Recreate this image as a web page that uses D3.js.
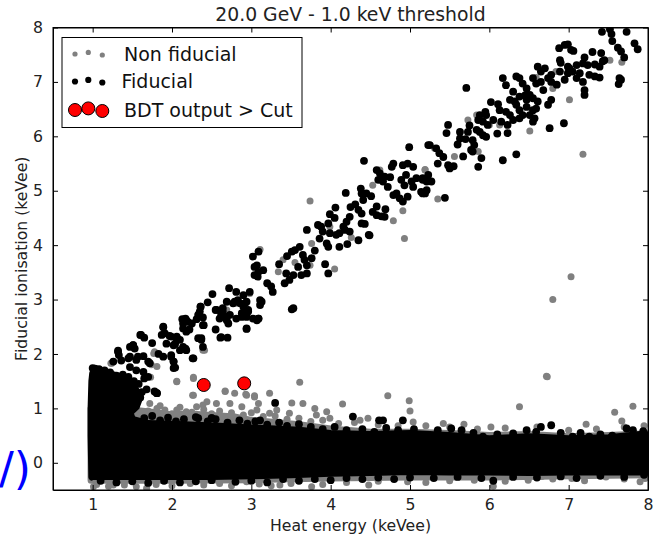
<!DOCTYPE html>
<html><head><meta charset="utf-8">
<script src="https://cdn.jsdelivr.net/npm/d3@7"></script>
<style>body{margin:0;background:#fff}svg{display:block}text{font-family:"DejaVu Sans",sans-serif}</style>
</head><body><div id="chart"></div>
<script>
const title = "20.0 GeV - 1.0 keV threshold";
const xLabel = "Heat energy (keVee)";
const yLabel = "Fiducial ionisation (keVee)";
const xTicks = [1,2,3,4,5,6,7,8];
const yTicks = [0,1,2,3,4,5,6,7,8];
const legendLabels = ["Non fiducial","Fiducial","BDT output > Cut"];

// dense band outlines (data coords)
const nonFidBandX = [0.98,0.98,1.4,1.6,1.8,2.0,2.2,2.4,2.6,2.8,3.0,3.3,3.6,4.0,4.5,5.0,5.5,6.0,6.5,7.0,7.5,8.1,8.1,7.0,6.0,5.0,4.0,3.0,2.0,1.0];
const nonFidBandY = [-0.32,1.0,0.98,0.95,0.92,0.88,0.9,0.88,0.86,0.84,0.78,0.74,0.7,0.62,0.56,0.56,0.54,0.5,0.52,0.48,0.5,0.54,-0.22,-0.24,-0.26,-0.26,-0.28,-0.31,-0.32,-0.32];
const fidBandX = [0.99,0.98,0.98,0.99,1.0,1.1,1.25,1.4,1.5,1.56,1.58,1.55,1.47,1.5,1.7,2.0,2.3,2.6,3.0,3.3,3.6,4.0,4.5,5.0,5.5,6.0,6.5,7.0,7.5,7.9,8.1,8.1,7.5,7.0,6.5,6.0,5.5,5.0,4.5,4.0,3.5,3.0,2.5,2.0,1.5,1.0];
const fidBandY = [-0.26,0.5,1.0,1.5,1.64,1.64,1.62,1.55,1.45,1.3,1.15,1.03,0.92,0.8,0.72,0.71,0.69,0.67,0.64,0.62,0.6,0.54,0.52,0.54,0.5,0.44,0.48,0.44,0.46,0.52,0.5,-0.17,-0.17,-0.17,-0.18,-0.17,-0.17,-0.16,-0.18,-0.19,-0.22,-0.24,-0.25,-0.25,-0.25,-0.25];

// scattered non-fiducial points
const nonFidX = [1.23,1.78,2.39,3.74,4.53,5.19,4.91,4.79,4.93,4.26,3.99,3.76,3.55,3.40,3.34,3.74,4.05,3.11,2.98,4.62,
7.41,7.52,7.67,7.01,6.80,6.51,7.18,6.13,6.00,5.86,5.56,5.73,5.84,5.19,5.35,5.31,6.84,6.59,7.03,6.80,6.72,
2.81,2.69,2.35,2.41,1.77,1.74,1.81,1.24,1.73,2.06,2.27,2.27,2.67,2.93,3.04,
2.06,2.27,2.26,2.44,2.67,2.79,2.94,3.04,3.23,3.61,3.51,3.65,3.80,3.95,4.15,3.48,3.82,3.99,2.56,2.73,2.88,3.09,3.07,3.32,3.23,
1.72,1.81,1.91,2.06,2.18,2.31,2.39,1.64,1.45,1.49,1.26,
4.72,4.99,5.00,6.38,6.73,7.58,7.81,7.22,7.67,5.68,6.02,5.42,5.04,4.37,4.47,
4.48,4.97,5.81,6.05,6.49,7.04,7.47,7.96,6.66,1.01,1.26,1.68,2.23,2.94,3.36,3.76,
1.7,1.85,2.0,2.1,2.25,2.4,2.5,2.6,2.75,2.9,3.0,3.15,3.3,3.45,3.6,3.75,3.9,4.1,4.3,4.6,4.85,5.2,5.5,5.85,6.2,6.6,7.0,7.35,7.7,7.95,
1.05,1.2,1.4,1.55,1.8,2.0,2.4,2.6,2.75,3.1,3.25,3.5,3.9,4.2,4.6,5.2,5.5,6.2,6.8,7.2,7.7,7.9];
const nonFidY = [1.83,2.04,2.07,4.81,5.10,5.39,4.63,4.45,4.12,4.14,4.34,4.03,3.68,3.73,3.51,3.63,3.56,3.92,3.11,5.38,
7.53,7.40,7.36,6.67,6.88,6.10,5.67,6.21,6.21,5.72,5.63,6.30,6.39,5.38,4.85,5.78,7.19,7.08,3.42,3.00,1.59,
2.93,2.81,2.78,2.07,2.01,1.80,1.77,1.83,1.57,1.49,1.57,1.24,1.32,1.26,1.23,
1.50,1.55,1.24,1.12,1.31,1.28,1.24,1.21,1.28,1.48,1.10,1.09,1.00,0.94,1.08,0.91,0.88,0.82,1.09,1.09,1.03,1.09,0.97,0.97,0.91,
1.09,1.00,0.97,0.97,0.94,1.03,1.06,0.91,1.12,1.40,1.86,
1.23,1.14,0.95,1.03,1.58,0.93,1.04,0.71,0.77,0.71,0.66,0.72,0.75,0.78,0.82,
-0.41,-0.35,-0.32,-0.43,-0.32,-0.29,-0.26,-0.29,-0.25,-0.44,-0.41,-0.47,-0.38,-0.35,-0.41,-0.44,
0.95,1.05,0.9,1.02,0.93,0.98,0.9,0.95,0.92,0.88,0.92,0.85,0.86,0.8,0.82,0.76,0.78,0.72,0.74,0.70,0.68,0.68,0.66,0.62,0.64,0.66,0.6,0.62,0.66,0.68,
-0.4,-0.43,-0.41,-0.44,-0.4,-0.42,-0.41,-0.38,-0.42,-0.39,-0.42,-0.38,-0.4,-0.36,-0.34,-0.36,-0.33,-0.34,-0.3,-0.33,-0.3,-0.35];

// scattered fiducial points
const fidX = [1.03,1.32,1.47,1.45,1.55,1.60,1.51,1.72,1.78,1.89,1.87,1.99,2.06,2.04,2.14,2.18,1.93,1.99,2.02,2.02,2.26,
2.13,2.18,2.25,2.14,2.18,2.33,2.39,2.37,2.39,2.36,2.62,2.56,2.64,2.62,2.69,2.71,2.79,2.86,2.88,2.92,2.94,3.09,3.11,3.13,3.53,
4.99,5.23,4.42,4.58,4.62,4.68,4.66,4.72,4.79,4.77,4.91,4.97,5.04,4.95,4.89,5.02,5.08,5.16,5.19,5.14,5.04,4.93,4.83,4.87,4.91,4.97,4.79,
4.19,4.38,4.39,4.31,4.41,4.51,4.58,4.69,4.64,4.68,4.06,3.99,4.35,4.39,4.53,4.58,
4.24,4.20,4.16,4.24,4.18,4.11,4.07,4.35,4.49,4.39,4.43,3.84,3.88,3.97,3.99,3.86,3.95,3.97,4.11,4.21,4.48,3.70,
3.51,3.55,3.61,3.65,3.67,3.70,3.76,3.59,3.53,3.44,3.42,3.48,3.63,3.70,3.93,3.97,
3.02,3.09,3.04,3.09,3.15,3.25,3.27,3.11,2.98,2.94,2.90,2.96,3.51,3.09,2.88,
7.42,7.54,7.52,7.73,7.83,7.87,6.88,6.95,6.99,7.03,7.06,7.41,7.62,7.66,7.64,7.66,7.63,7.45,
6.89,6.99,7.10,7.18,7.24,7.33,7.43,7.39,6.61,6.70,6.65,6.78,6.89,6.99,7.01,7.05,7.14,7.26,7.33,7.39,
6.95,7.10,7.18,7.20,7.20,6.17,6.34,6.38,6.21,6.30,6.42,6.47,6.55,6.59,6.65,6.74,6.78,6.51,6.38,6.47,6.55,6.61,6.32,6.26,5.71,
6.02,6.11,6.13,6.34,6.38,6.47,6.55,6.59,6.51,6.57,6.42,6.26,6.21,6.30,6.38,6.74,6.78,6.55,
5.88,5.96,5.86,5.92,5.98,5.84,5.88,5.73,5.63,5.48,5.46,5.63,5.79,5.92,5.81,5.77,5.96,6.15,6.23,6.23,6.94,6.76,6.34,6.17,
5.48,5.50,5.67,5.79,5.90,5.86,5.37,5.25,5.33,5.16,5.23,5.21,5.27,5.16,5.21,5.44,
3.07,3.04,3.08,2.51,2.72,2.81,2.90,2.69,2.77,2.83,2.92,2.96,3.02,2.55,2.64,2.73,2.60,2.69,2.81,2.94,3.07,
2.36,2.35,2.39,2.40,2.17,2.20,2.14,2.22,2.31,1.89,1.91,1.97,2.06,2.10,2.02,2.10,2.17,2.33,2.37,2.27,2.61,2.94,
1.61,1.51,1.53,1.47,1.32,1.33,1.36,1.57,1.64,1.70,1.83,1.89,1.99,2.02,2.04,1.26,1.47,1.55,1.64,1.70,1.81,
3.30,3.11,2.50,1.81,2.75,4.28,4.61,4.66,4.91,6.65,5.52,7.94,
5.35,5.42,5.55,5.60,5.70,5.75,5.95,6.05,6.10,6.45,6.68,6.85,6.90,7.20,7.30,7.55,7.70,3.20,3.35,3.45,3.80,3.90,4.05,4.25,4.45,4.60,4.75,2.55,2.70,2.45,1.75,1.65,
1.00,1.08,1.15,1.22,1.30,1.38,1.45,1.52,1.58,1.62,1.60,1.55,1.65,1.68,
1.65,1.75,1.85,1.95,2.05,2.15,2.30,2.45,2.55,2.70,2.85,2.95,3.05,3.20,3.35,3.45,3.60,3.75,3.90,4.05,4.20,4.40,4.55,4.70,4.85,5.05,5.21,5.35,5.65,5.80,5.92,6.10,6.30,6.47,6.59,6.78,6.90,7.05,7.15,7.26,7.40,7.55,7.73,7.81,2.33,2.50,
1.10,1.30,1.50,1.70,1.90,2.10,2.30,2.50,2.80,3.00,3.20,3.40,3.60,3.80,4.00,4.20,4.40,4.60,4.80,5.00,5.30,5.60,5.90,6.05,6.30,6.60,6.90,7.10,7.40,7.70,7.95];
const fidY = [1.73,2.04,2.13,1.92,1.89,2.35,2.16,1.83,1.31,2.50,2.35,2.32,2.29,2.19,2.13,2.07,2.19,1.98,1.86,1.74,1.92,
2.64,2.62,2.56,2.47,2.41,2.72,2.53,2.29,2.13,2.87,2.31,2.81,2.84,2.72,2.68,2.56,2.96,2.93,2.75,2.78,2.47,2.65,2.90,2.96,2.84,
5.80,5.84,5.55,5.38,5.32,5.26,5.17,5.07,5.50,5.44,5.47,5.50,5.44,5.29,5.20,5.17,5.23,5.20,4.95,4.98,5.07,5.10,4.95,4.86,4.80,4.89,4.92,
4.96,5.04,4.95,4.75,4.83,4.90,4.71,4.66,4.53,4.52,4.69,4.57,4.65,4.58,4.61,4.55,
4.52,4.43,4.34,4.25,4.28,4.22,4.19,4.09,4.18,4.40,4.39,4.37,4.34,4.40,4.22,4.12,4.03,3.97,3.97,4.02,4.19,4.28,
3.88,3.91,3.97,3.82,3.73,3.63,3.76,3.60,3.45,3.48,3.30,3.36,3.45,3.48,3.65,3.48,
3.79,3.88,3.60,3.51,3.54,3.24,3.14,2.99,3.14,2.96,2.87,2.81,2.82,2.65,2.68,
7.92,7.88,7.97,7.92,7.71,7.60,7.62,7.68,7.69,7.59,7.57,7.53,7.63,7.56,7.07,7.04,6.96,7.40,
7.40,7.28,7.31,7.34,7.31,7.32,7.38,7.28,7.28,7.25,7.19,7.13,7.19,7.16,7.25,7.19,7.16,7.13,7.10,7.08,
7.04,7.07,7.00,6.85,6.76,7.07,7.10,7.07,6.94,6.82,6.97,6.88,7.07,6.97,7.00,7.07,7.00,6.76,6.73,6.67,6.70,6.64,6.64,6.67,6.89,
6.63,6.59,6.48,6.58,6.48,6.54,6.48,6.51,6.39,6.33,6.39,6.39,6.45,6.30,6.33,6.58,6.67,6.27,
6.39,6.39,6.30,6.27,6.21,6.12,6.08,6.08,6.08,6.21,6.06,5.96,5.93,6.02,5.84,5.75,5.99,6.27,6.21,6.06,6.24,6.15,5.67,5.56,
5.47,5.41,5.63,5.72,5.60,5.44,5.69,5.84,5.78,5.23,5.29,5.17,5.17,4.95,5.01,4.87,
3.63,3.45,3.42,3.10,3.21,3.14,3.08,2.96,2.93,2.99,2.93,2.78,2.65,2.81,2.78,2.72,2.65,2.62,2.65,2.68,2.62,
2.87,2.78,2.67,2.53,2.65,2.59,2.56,2.45,2.64,2.49,2.38,2.33,2.32,2.26,2.16,2.07,2.10,2.29,2.26,1.92,2.30,2.46,
2.35,2.16,2.10,1.95,2.06,1.98,1.88,1.95,1.96,1.86,2.00,1.95,1.95,1.86,1.75,1.86,1.76,1.70,1.67,1.58,1.28,
1.10,0.78,0.82,1.28,-0.23,0.85,0.78,0.78,0.78,0.66,0.63,0.58,
5.50,5.62,5.45,5.85,5.95,6.20,6.45,6.30,6.05,6.75,6.85,6.95,7.35,7.45,7.55,7.75,7.45,3.30,3.65,3.80,3.90,4.25,4.50,4.70,4.95,5.20,5.25,2.45,2.30,2.95,2.20,2.30,
1.74,1.72,1.70,1.66,1.60,1.62,1.58,1.50,1.45,1.30,1.20,1.10,1.55,1.35,
0.82,0.86,0.78,0.83,0.76,0.80,0.84,0.76,0.80,0.74,0.78,0.72,0.76,0.70,0.74,0.68,0.71,0.66,0.62,0.66,0.60,0.62,0.57,0.64,0.60,0.62,0.51,0.60,0.60,0.55,0.48,0.52,0.54,0.60,0.57,0.69,0.55,0.48,0.55,0.48,0.52,0.50,0.63,0.60,0.82,0.82,
-0.33,-0.36,-0.34,-0.37,-0.33,-0.36,-0.34,-0.32,-0.35,-0.33,-0.36,-0.30,-0.33,-0.30,-0.32,-0.28,-0.30,-0.27,-0.30,-0.27,-0.28,-0.26,-0.28,-0.33,-0.26,-0.27,-0.25,-0.28,-0.24,-0.26,-0.22];

// BDT output > Cut
const bdtX = [2.40,2.91];
const bdtY = [1.43,1.46];

const W = 653, H = 541;
const m = {left:53, right:5, top:27.5, bottom:51};
const x = d3.scaleLinear().domain([0.5,8]).range([m.left, W-m.right]);
const y = d3.scaleLinear().domain([-0.5,8]).range([H-m.bottom, m.top]);

const svg = d3.select("#chart").append("svg").attr("width",W).attr("height",H);
svg.append("defs").append("clipPath").attr("id","clip").append("rect")
  .attr("x",x(0.5)).attr("y",y(8)).attr("width",x(8)-x(0.5)).attr("height",y(-0.5)-y(8));

// stray blue text fragment at the left edge
svg.append("text").attr("x",-1).attr("y",484).attr("text-anchor","start")
  .attr("font-size",44).attr("fill","#0000ff").text("/)");

const plot = svg.append("g").attr("clip-path","url(#clip)");
const poly = d3.line().x(d=>x(d[0])).y(d=>y(d[1])).curve(d3.curveLinearClosed);
const GRAY = "#808080";
plot.append("path").datum(nonFidBandX.map((v,i)=>[v,nonFidBandY[i]]))
  .attr("d",poly).attr("fill",GRAY).attr("stroke",GRAY).attr("stroke-width",7).attr("stroke-linejoin","round");
plot.selectAll("circle.nf").data(nonFidX.map((v,i)=>[v,nonFidY[i]])).join("circle").attr("class","nf")
  .attr("cx",d=>x(d[0])).attr("cy",d=>y(d[1])).attr("r",3.5).attr("fill",GRAY);
plot.append("path").datum(fidBandX.map((v,i)=>[v,fidBandY[i]]))
  .attr("d",poly).attr("fill","#000").attr("stroke","#000").attr("stroke-width",7).attr("stroke-linejoin","round");
plot.selectAll("circle.f").data(fidX.map((v,i)=>[v,fidY[i]])).join("circle").attr("class","f")
  .attr("cx",d=>x(d[0])).attr("cy",d=>y(d[1])).attr("r",3.9).attr("fill","#000");
plot.selectAll("circle.b").data(bdtX.map((v,i)=>[v,bdtY[i]])).join("circle").attr("class","b")
  .attr("cx",d=>x(d[0])).attr("cy",d=>y(d[1])).attr("r",6.5).attr("fill","#ff0000").attr("stroke","#000").attr("stroke-width",1);

// axes frame and ticks (inward, all sides)
const fmt = d3.format("d");
const ax = svg.append("g").attr("font-size",15.7);
ax.append("g").attr("transform",`translate(0,${y(-0.5)})`)
  .call(d3.axisBottom(x).tickValues(xTicks).tickSizeInner(-5).tickSizeOuter(0).tickPadding(9).tickFormat(fmt));
ax.append("g").attr("transform",`translate(0,${y(8)})`)
  .call(d3.axisTop(x).tickValues(xTicks).tickSizeInner(-5).tickSizeOuter(0).tickFormat(""));
ax.append("g").attr("transform",`translate(${x(0.5)},0)`)
  .call(d3.axisLeft(y).tickValues(yTicks).tickSizeInner(-5).tickSizeOuter(0).tickPadding(10).tickFormat(fmt));
ax.append("g").attr("transform",`translate(${x(8)},0)`)
  .call(d3.axisRight(y).tickValues(yTicks).tickSizeInner(-5).tickSizeOuter(0).tickFormat(""));
ax.selectAll(".domain").attr("stroke","#000");
ax.selectAll("text").attr("font-family","DejaVu Sans").attr("font-size",15.7).attr("fill","#222");
svg.append("rect").attr("x",x(0.5)).attr("y",y(8)).attr("width",x(8)-x(0.5)).attr("height",y(-0.5)-y(8))
  .attr("fill","none").attr("stroke","#000").attr("stroke-width",1);

svg.append("text").attr("x",(x(0.5)+x(8))/2).attr("y",21).attr("text-anchor","middle").attr("font-size",18.8).attr("fill","#222").text(title);
svg.append("text").attr("x",(x(0.5)+x(8))/2).attr("y",531).attr("text-anchor","middle").attr("font-size",15.7).attr("fill","#222").text(xLabel);
svg.append("text").attr("transform",`translate(27,${(y(-0.5)+y(8))/2}) rotate(-90)`).attr("text-anchor","middle").attr("font-size",15.7).attr("fill","#222").text(yLabel);

// legend
const lg = svg.append("g");
lg.append("rect").attr("x",62).attr("y",37.5).attr("width",240).attr("height",90).attr("fill","#fff").attr("stroke","#000");
const mx = [75,88.3,102.3], my = [0,-1.6,1];
[[54,GRAY,2.6,"none"],[81.5,"#000",3.1,"none"],[110,"#ff0000",6.5,"#000"]].forEach((s,i)=>{
  mx.forEach((xx,j)=>lg.append("circle").attr("cx",xx).attr("cy",s[0]+my[j]).attr("r",s[2]).attr("fill",s[1]).attr("stroke",s[3]));
  lg.append("text").attr("x",i===1?121.5:124).attr("y",s[0]+6.5).attr("font-size",19).attr("fill","#111").text(legendLabels[i]);
});
</script></body></html>
